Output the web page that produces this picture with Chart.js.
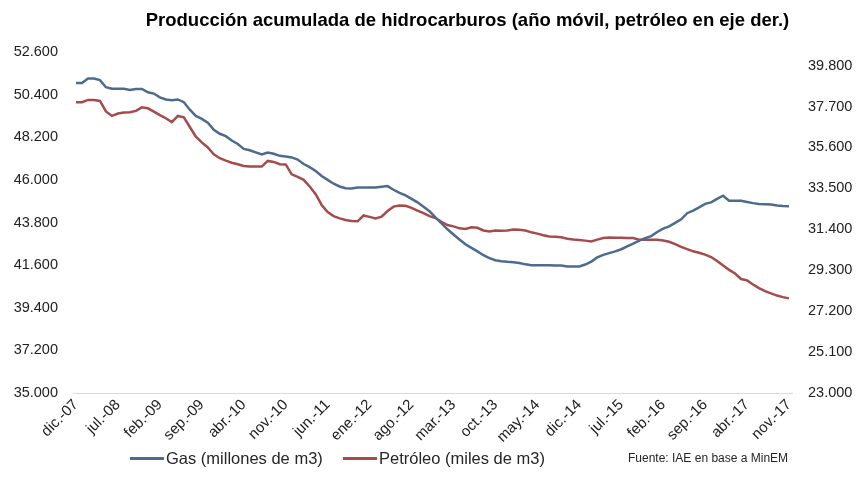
<!DOCTYPE html>
<html>
<head>
<meta charset="utf-8">
<script src="https://cdn.jsdelivr.net/npm/chart.js@4.4.1/dist/chart.umd.min.js"></script>
<style>
body{margin:0;background:#fff;}
#wrap{position:relative;width:867px;height:492px;font-family:"Liberation Sans",Arial,sans-serif;}
#title{position:absolute;top:9px;left:68px;right:0;text-align:center;font-weight:bold;font-size:18.5px;color:#000;white-space:nowrap;}
.item{position:absolute;top:449px;display:flex;align-items:center;font-size:16.5px;color:#262626;white-space:nowrap;}
.swatch{width:34px;height:3px;margin-right:2px;}
#source{position:absolute;top:451px;left:628px;font-size:12px;color:#262626;}
</style>
</head>
<body>
<div id="wrap">
<canvas id="prodChart" width="867" height="492"></canvas>
<div id="title">Producción acumulada de hidrocarburos (año móvil, petróleo en eje der.)</div>
<div id="legend"></div>
<div id="source">Fuente: IAE en base a MinEM</div>
</div>
<script>
// ==========================
// Data
// ==========================

const monthNames=["ene.","feb.","mar.","abr.","may.","jun.","jul.","ago.","sep.","oct.","nov.","dic."];
const firstYear=2007, firstMonth=11; // dic.-07
const monthCount=120; // dic.-07 .. nov.-17

// Gas (millones de m3), eje izq.
const gasValues=[
51000,51000,51230,51230,51150,50780,50700,50700,50700,50640,
50690,50690,50520,50455,50260,50150,50110,50150,50010,49620,
49300,49150,48950,48580,48380,48255,48030,47850,47600,47530,
47420,47310,47415,47350,47240,47210,47160,47050,46820,46660,
46460,46200,46000,45800,45660,45570,45560,45610,45610,45610,
45610,45650,45680,45490,45330,45200,45020,44840,44615,44380,
44060,43760,43450,43180,42920,42680,42490,42310,42110,41960,
41850,41800,41770,41750,41710,41640,41595,41595,41595,41595,
41575,41575,41530,41525,41530,41630,41780,42000,42130,42220,
42310,42420,42570,42710,42860,42990,43100,43310,43480,43600,
43780,43965,44280,44410,44580,44760,44840,45020,45180,44925,
44925,44925,44860,44800,44755,44745,44730,44680,44650,44635
];

// Petróleo (miles de m3), eje der.
const oilValues=[
37920,37920,38040,38040,37990,37450,37220,37340,37390,37405,
37480,37660,37610,37440,37260,37100,36900,37220,37150,36650,
36150,35860,35600,35250,35050,34925,34820,34740,34650,34620,
34620,34620,34910,34860,34740,34730,34220,34090,33940,33600,
33200,32650,32280,32080,31960,31880,31830,31810,32110,32040,
31960,32050,32340,32565,32620,32610,32500,32360,32230,32080,
31980,31790,31620,31550,31450,31420,31510,31480,31340,31295,
31340,31330,31340,31385,31375,31340,31245,31180,31100,31030,
31020,30990,30920,30880,30850,30820,30780,30870,30950,30975,
30970,30965,30960,30955,30870,30870,30870,30870,30830,30760,
30640,30500,30380,30270,30200,30100,29980,29770,29540,29320,
29130,28850,28780,28570,28380,28230,28110,28000,27920,27855
];

const seriesNames=["Gas (millones de m3)","Petróleo (miles de m3)"];
const seriesColors=["#4d6b8e","#a64b4b"];
const legendLeft=[130,343];

const leftTicks=[35000,37200,39400,41600,43800,46000,48200,50400,52600];
const rightTicks=[23000,25100,27200,29300,31400,33500,35600,37700,39800];
const rightMax=40500;
const labelEvery=7;

// ==========================
// Labels
// ==========================

const labels=[];
for(let i=0;i<monthCount;i++){
const m=(firstMonth+i)%12;
const y=firstYear+Math.floor((firstMonth+i)/12);
labels.push(monthNames[m]+"-"+String(y%100).padStart(2,"0"));
}

function fmt(v){
const k=Math.floor(v/1000);
return k+"."+String(Math.round(v%1000)).padStart(3,"0");
}

const fontFamily="'Liberation Sans', Arial, sans-serif";
const noGrid={display:false,drawTicks:false,tickLength:0};

// ==========================
// Chart
// ==========================

const ctx=document.getElementById("prodChart");

const prodChart=new Chart(ctx,{

type:"line",

data:{
labels:labels,
datasets:[{
label:seriesNames[0],
data:gasValues,
yAxisID:"y",
borderColor:seriesColors[0],
backgroundColor:seriesColors[0],
borderWidth:2.5,
pointRadius:0,
tension:0
},{
label:seriesNames[1],
data:oilValues,
yAxisID:"y2",
borderColor:seriesColors[1],
backgroundColor:seriesColors[1],
borderWidth:2.5,
pointRadius:0,
tension:0
}]
},

options:{
responsive:false,
animation:false,
layout:{padding:{top:52,left:0,right:0,bottom:0}},
plugins:{
legend:{display:false},
title:{display:false},
tooltip:{enabled:false}
},
scales:{
x:{
type:"category",
offset:true,
grid:noGrid,
border:{display:true,color:"#d9d9d9",width:1},
ticks:{
autoSkip:false,
minRotation:45,
maxRotation:45,
padding:3,
color:"#222",
font:{family:fontFamily,size:15},
callback:function(v,i){
return i%labelEvery===0?this.getLabelForValue(v):null;
}
},
afterFit:function(s){s.height=99;}
},
y:{
position:"left",
min:leftTicks[0],
max:leftTicks[leftTicks.length-1],
grid:noGrid,
border:{display:false},
afterBuildTicks:function(s){s.ticks=leftTicks.map(v=>({value:v}));},
ticks:{
padding:15,
color:"#222",
font:{family:fontFamily,size:14.5},
callback:v=>fmt(v)
},
afterFit:function(s){s.width=73;}
},
y2:{
position:"right",
min:rightTicks[0],
max:rightMax,
grid:noGrid,
border:{display:false},
afterBuildTicks:function(s){s.ticks=rightTicks.map(v=>({value:v}));},
ticks:{
padding:16,
color:"#222",
font:{family:fontFamily,size:14.5},
callback:v=>fmt(v)
},
afterFit:function(s){s.width=75;}
}
}
}

});

// ==========================
// Legend
// ==========================

const legendBox=document.getElementById("legend");
prodChart.data.datasets.forEach((ds,i)=>{
const item=document.createElement("div");
item.className="item";
item.style.left=legendLeft[i]+"px";
const sw=document.createElement("span");
sw.className="swatch";
sw.style.background=ds.borderColor;
const tx=document.createElement("span");
tx.textContent=ds.label;
item.appendChild(sw);
item.appendChild(tx);
legendBox.appendChild(item);
});
</script>
</body>
</html>
